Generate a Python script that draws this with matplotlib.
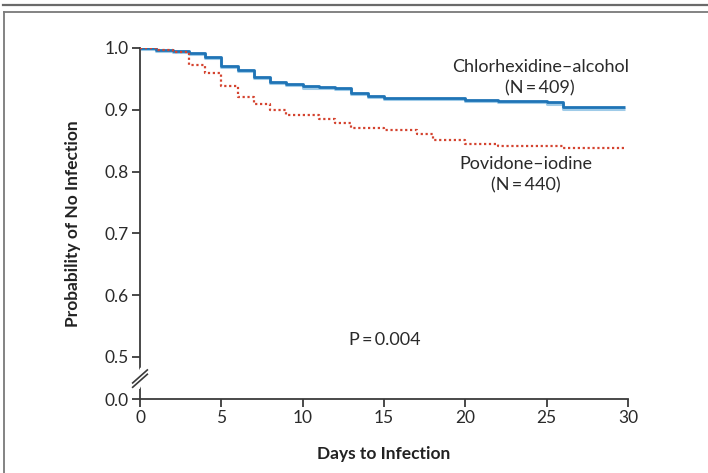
import matplotlib
matplotlib.use('Agg')
import matplotlib.pyplot as plt
import matplotlib.transforms as mtransforms
from matplotlib.lines import Line2D

plt.rcParams['font.family'] = ['Lato', 'DejaVu Sans']

# Kaplan-Meier steps
chx_days = [0, 1, 2, 3, 4, 5, 6, 7, 8, 9, 10, 11, 12, 13, 14, 15, 20, 22, 25, 26, 29.8]
chx_prob = [1.0, 0.997, 0.995, 0.992, 0.985, 0.971, 0.964, 0.953, 0.945, 0.942, 0.938,
            0.937, 0.935, 0.927, 0.922, 0.919, 0.916, 0.915, 0.912, 0.904, 0.904]
pvi_days = [0, 1, 2, 3, 4, 5, 6, 7, 8, 9, 11, 12, 13, 15, 17, 18, 20, 22, 26, 29.8]
pvi_prob = [1.0, 0.997, 0.993, 0.972, 0.959, 0.938, 0.921, 0.909, 0.900, 0.892, 0.885,
            0.879, 0.870, 0.867, 0.861, 0.851, 0.845, 0.842, 0.838, 0.838]

x_ticks = [0, 5, 10, 15, 20, 25, 30]
y_ticks = [0.0, 0.5, 0.6, 0.7, 0.8, 0.9, 1.0]
y_labels = ['0.0', '0.5', '0.6', '0.7', '0.8', '0.9', '1.0']

# broken axis: 0.0 drawn a short way below 0.5
ZERO_POS = 0.432


def ymap(v):
    return ZERO_POS if v == 0 else v


fig = plt.figure(figsize=(7.08, 4.73), dpi=100)
ax = fig.add_axes([140 / 708, 74 / 473, 488 / 708, 351 / 473])

shadow = mtransforms.offset_copy(ax.transData, fig=fig, x=0, y=-1.2, units='dots')
ax.step(chx_days, chx_prob, where='post', color='#9fcbe8', lw=2.2, transform=shadow,
        solid_capstyle='butt', zorder=2)
ax.step(chx_days, chx_prob, where='post', color='#1f74b6', lw=2.0,
        solid_capstyle='butt', zorder=3)
ax.step(pvi_days, pvi_prob, where='post', color='#d4432f', lw=1.6,
        linestyle=(0, (1, 1.2)), zorder=3)

ax.set_xlim(0, 30)
ax.set_ylim(ZERO_POS, 1.0)
ax.set_xticks(x_ticks)
ax.set_yticks([ymap(v) for v in y_ticks])
ax.set_yticklabels(y_labels)

for s in ['top', 'right']:
    ax.spines[s].set_visible(False)
for s in ['left', 'bottom']:
    ax.spines[s].set_color('#3a3a3a')
    ax.spines[s].set_linewidth(1.3)
ax.tick_params(direction='out', length=6, width=1.3, color='#3a3a3a',
               labelsize=12.5, labelcolor='#2a2a2a', pad=2)

ax.set_xlabel('Days to Infection', fontsize=12.5, fontweight='bold', color='#222222', labelpad=14)
ax.set_ylabel('Probability of No Infection', fontsize=12.5, fontweight='bold', color='#222222', labelpad=17)

# axis break marks
y_lo, y_hi = 0.455, 0.476
ax.fill([-0.45, 0.05, 0.45, -0.05], [y_lo, y_hi + 0.006, y_hi, y_lo - 0.006],
        color='white', clip_on=False, zorder=5)
for dy in (0.0, 0.007):
    ax.plot([-0.45, 0.45], [y_lo - 0.004 + dy, y_hi - 0.004 + dy], color='#3a3a3a',
            lw=1.2, clip_on=False, zorder=6)

txt = dict(ha='center', va='center', fontsize=13, color='#2a2a2a')
ax.text(24.6, 0.969, 'Chlorhexidine\u2013alcohol', **txt)
ax.text(24.6, 0.934, '(N\u2009=\u2009409)', **txt)
ax.text(23.7, 0.812, 'Povidone\u2013iodine', **txt)
ax.text(23.7, 0.777, '(N\u2009=\u2009440)', **txt)
ax.text(15.05, 0.527, 'P\u2009=\u20090.004', **txt)

# frame around the figure
fig.add_artist(Line2D([3 / 708, 1], [1 - 5 / 473] * 2, color='#6a6a6a', lw=1.6))
fig.add_artist(Line2D([4 / 708, 1], [1 - 12 / 473] * 2, color='#7a7a7a', lw=1.3))
fig.add_artist(Line2D([4 / 708] * 2, [1 - 12 / 473, 0], color='#7a7a7a', lw=1.3))

fig.savefig('out.png', dpi=100)
